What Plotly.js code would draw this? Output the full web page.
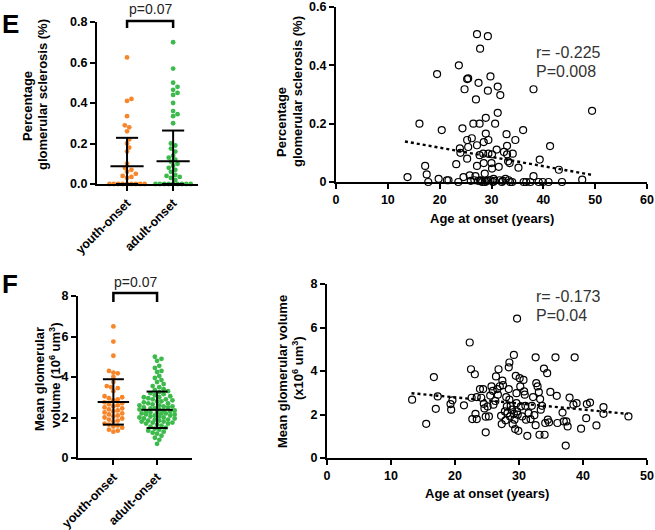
<!DOCTYPE html>
<html><head><meta charset="utf-8">
<script src="https://cdn.plot.ly/plotly-3.0.1.min.js"></script>
<style>html,body{margin:0;padding:0;background:#fff}#chart{width:655px;height:530px}</style>
</head><body><div id="chart"></div>
<script>
// ---------- DATA ----------
const groups = ["youth-onset", "adult-onset"];

// Panel E left: percentage glomerular sclerosis by group
const sclYouth = [0.625,0.42,0.41,0.335,0.29,0.28,0.26,0.22,0.2,0.18,0.16,0.1,0.08,0.07,0.06,0.05,0.04,0.035,0.03,0,0,0,0,0,0,0,0,0];
const sclAdult = [0.70,0.57,0.50,0.48,0.465,0.45,0.44,0.40,0.36,0.345,0.335,0.30,0.20,0.19,0.175,0.16,0.14,0.13,0.12,0.11,0.10,0.09,0.08,0.07,0.06,0.045,0.04,0.035,0.03,0.02,0,0,0,0,0,0,0,0,0];
const sclMean = [0.088, 0.112];
const sclSD = [0.14, 0.152];

// Panel E right: age at onset vs percentage glomerular sclerosis
const ageE = [13.8,16.1,17.2,17.5,17.8,19.5,19.8,20.4,21.4,21.7,23.2,23.6,23.7,23.9,24.0,24.4,24.6,24.8,25.3,25.3,25.5,25.5,25.3,25.8,26.2,26.5,26.7,26.9,27.0,27.2,27.2,27.2,27.5,27.7,27.7,27.8,27.8,28.2,28.4,28.5,28.5,28.7,28.8,28.9,28.9,29.3,29.3,29.4,29.4,29.4,29.8,29.8,30.0,30.1,30.1,30.3,30.4,30.7,31.0,31.2,31.2,31.4,31.6,31.7,32.0,32.4,32.7,32.9,33.0,33.0,33.2,33.3,33.5,33.6,34.0,34.1,34.6,35.2,36.1,36.2,36.7,37.5,38.1,38.1,39.1,39.3,39.9,41.0,41.3,43.0,43.6,47.5,49.4,26.0,28.0,30.6,32.2,29.0,27.4];
const sclE = [0.017,0.20,0.055,0.026,0,0.37,0.011,0.178,0.006,0.006,0.061,0,0.40,0.115,0.10,0.184,0.017,0.318,0.144,0.353,0.355,0.12,0.08,0.023,0.15,0.20,0.006,0.02,0.283,0.507,0.126,0.055,0.34,0.20,0.092,0.457,0.006,0,0.097,0.137,0.065,0.029,0,0.22,0.166,0.50,0.313,0.144,0.097,0.006,0.362,0.006,0.065,0.095,0.046,0,0.011,0.20,0.111,0.327,0.237,0.052,0.006,0.298,0,0.103,0.011,0.164,0.124,0.095,0.071,0.006,0.065,0,0,0.097,0.144,0.049,0.178,0,0,0,0.318,0.02,0,0.077,0,0,0.123,0.042,0,0.008,0.244,0.004,0.004,0.004,0.004,0.004,0.004];
const fitE_x = [13.3, 49.2];
const fitE_y = [0.139, 0.025];

// Panel F left: mean glomerular volume by group
const volYouth = [6.5,5.75,5.05,4.3,4.22,4.18,4.0,3.75,3.55,3.5,3.45,3.3,3.05,3.0,2.95,2.9,2.85,2.75,2.7,2.65,2.6,2.55,2.5,2.45,2.4,2.35,2.3,2.25,2.2,2.15,2.1,2.05,2.0,1.95,1.9,1.85,1.8,1.7,1.65,1.6,1.55,1.5,1.4,1.35,1.3];
const volAdult = [5.0,4.9,4.8,4.55,4.45,4.3,4.25,4.05,3.95,3.85,3.75,3.65,3.55,3.5,3.4,3.35,3.3,3.25,3.2,3.15,3.1,3.05,3.0,3.0,2.95,2.9,2.9,2.85,2.8,2.8,2.75,2.7,2.7,2.65,2.6,2.6,2.55,2.55,2.5,2.5,2.45,2.45,2.4,2.4,2.35,2.35,2.3,2.3,2.25,2.25,2.2,2.2,2.2,2.15,2.15,2.1,2.1,2.05,2.05,2.0,2.0,1.95,1.95,1.9,1.9,1.85,1.85,1.8,1.8,1.75,1.75,1.7,1.7,1.65,1.6,1.55,1.5,1.45,1.4,1.35,1.3,1.25,1.2,1.1,1.0,0.9,0.7];
const volMean = [2.77, 2.38];
const volSD = [1.12, 0.9];

// Panel F right: age at onset vs mean glomerular volume
const ageF = [13.3,15.5,16.7,17.0,17.3,19.3,19.4,19.6,21.4,22.3,22.5,22.6,22.7,23.1,23.2,23.4,23.4,23.9,24.1,24.4,24.5,24.6,24.8,24.8,25.1,25.3,25.5,25.7,25.9,26.0,26.3,26.4,26.6,26.7,26.8,27.0,27.2,27.3,27.4,27.5,27.8,27.9,28.0,28.1,28.2,28.4,28.4,28.5,28.5,28.6,28.7,28.9,29.0,29.2,29.2,29.3,29.4,29.5,29.6,29.6,29.7,29.7,29.8,29.9,30.1,30.2,30.3,30.5,30.7,30.8,30.9,31.0,31.1,31.3,31.5,31.8,32.0,32.2,32.4,32.6,32.6,32.7,32.9,33.1,33.2,33.3,33.4,33.6,33.9,34.0,34.1,34.4,34.5,34.7,34.9,35.7,35.9,36.0,36.8,37.0,37.3,37.4,37.6,37.9,38.5,38.7,39.0,39.7,40.5,40.6,41.1,42.1,43.2,43.2,47.1];
const volF = [2.68,1.57,3.72,2.26,2.83,2.48,2.22,2.65,2.42,5.31,4.08,2.77,1.79,3.85,2.03,2.8,1.79,3.17,2.77,3.17,2.49,2.28,1.9,1.18,2.37,1.91,2.87,3.29,3.09,2.45,2.62,3.75,3.17,2.91,4.08,3.3,1.94,1.56,3.56,3.35,2.14,1.73,2.8,2.37,2.06,3.17,4.17,4.39,2.68,1.91,2.4,2.22,1.56,4.74,2.03,1.76,1.33,3.78,2.98,2.52,6.41,2.14,1.99,1.25,3.67,3.29,2.37,1.91,3.59,3.06,2.91,2.4,1.76,1.02,2.06,1.79,2.4,2.8,1.97,4.63,1.51,3.44,3.29,3.03,1.07,2.71,2.22,2.4,4.11,1.07,1.61,3.9,1.76,1.64,3.04,4.63,2.86,1.61,2.09,1.68,0.57,1.68,1.45,2.78,2.45,4.63,2.52,1.35,1.83,2.48,2.55,1.5,2.34,2.03,1.91];
const fitF_x = [13.2, 47.0];
const fitF_y = [2.98, 2.03];

// ---------- STYLE / LAYOUT HELPERS ----------
const W = 655, H = 530;
const ORANGE = "#f7862a", GREEN = "#3dba4c";
const FONT = "Liberation Sans, Arial, sans-serif";
const px = x => x / W, py = y => 1 - y / H;

const dom = {
  eL: {x: [97, 198], y: [22, 184], xr: [-0.652, 1.54], yr: [0, 0.8]},
  eR: {x: [336, 647], y: [7, 182], xr: [0, 60], yr: [0, 0.6]},
  fL: {x: [78, 192], y: [296, 458], xr: [-0.81, 1.8], yr: [0, 8]},
  fR: {x: [327, 647], y: [284, 458], xr: [0, 50], yr: [0, 8]}
};

function swarm(vals, pxX, pxY, d, maxHalf) {
  const placed = [], xs = new Array(vals.length);
  const order = vals.map((v, i) => i).sort((a, b) => vals[a] - vals[b]);
  for (const i of order) {
    const y = vals[i] * pxY;
    let best = 0, bestScore = -1;
    for (let k = 0; k < 80; k++) {
      const off = k === 0 ? 0 : (k % 2 ? 1 : -1) * Math.ceil(k / 2) * d * 0.5;
      if (Math.abs(off) > maxHalf) break;
      let minD = Infinity;
      for (const p of placed) minD = Math.min(minD, Math.hypot(p.x - off, p.y - y));
      if (minD >= d) { best = off; bestScore = Infinity; break; }
      if (minD > bestScore) { bestScore = minD; best = off; }
    }
    placed.push({x: best, y});
    xs[i] = best / pxX;
  }
  return xs;
}

function axisPair(key, xa, ya, opts) {
  const D = dom[key];
  const common = {
    showline: true, linecolor: "#000", linewidth: 2, mirror: false,
    ticks: "outside", ticklen: 5, tickwidth: 2, tickcolor: "#000",
    showgrid: false, zeroline: false,
    tickfont: {family: FONT, size: 12.5, color: "#000", weight: 700}
  };
  const X = Object.assign({}, common, {domain: [px(D.x[0]), px(D.x[1])], range: D.xr, anchor: ya}, opts.x || {});
  const Y = Object.assign({}, common, {domain: [py(D.y[1]), py(D.y[0])], range: D.yr, anchor: xa}, opts.y || {});
  return [X, Y];
}

const traces = [];
const shapes = [];
const ann = [];

function groupPanel(key, xa, ya, data, mean, sd, colors) {
  const D = dom[key];
  const pxX = (D.x[1] - D.x[0]) / (D.xr[1] - D.xr[0]);
  const pxY = (D.y[1] - D.y[0]) / (D.yr[1] - D.yr[0]);
  data.forEach((vals, g) => {
    const offs = swarm(vals, pxX, pxY, 4.4, 18);
    traces.push({type: "scatter", mode: "markers", xaxis: xa, yaxis: ya, cliponaxis: false,
      x: offs.map(o => g + o), y: vals, hoverinfo: "skip",
      marker: {size: 4.8, color: colors[g], line: {width: 0}}});
  });
  // mean and SD bars
  mean.forEach((m, g) => {
    const lo = Math.max(D.yr[0], m - sd[g]), hi = m + sd[g];
    const line = {color: "#000", width: 2};
    traces.push({type: "scatter", mode: "lines", xaxis: xa, yaxis: ya, hoverinfo: "skip", cliponaxis: false,
      x: [g - 0.36, g + 0.36], y: [m, m], line});
    traces.push({type: "scatter", mode: "lines", xaxis: xa, yaxis: ya, hoverinfo: "skip", cliponaxis: false,
      x: [g, g, null, g - 0.24, g + 0.24, null, g - 0.24, g + 0.24], y: [lo, hi, null, hi, hi, null, lo, lo], line});
  });
}

function scatterPanel(xa, ya, xs, ys, fx, fy) {
  traces.push({type: "scatter", mode: "markers", xaxis: xa, yaxis: ya, cliponaxis: false, hoverinfo: "skip",
    x: xs, y: ys, marker: {symbol: "circle-open", size: 7, color: "#000", line: {width: 1.2, color: "#000"}}});
  traces.push({type: "scatter", mode: "lines", xaxis: xa, yaxis: ya, hoverinfo: "skip",
    x: fx, y: fy, line: {color: "#000", width: 2.4, dash: "dot"}});
}

groupPanel("eL", "x", "y", [sclYouth, sclAdult], sclMean, sclSD, [ORANGE, GREEN]);
scatterPanel("x2", "y2", ageE, sclE, fitE_x, fitE_y);
groupPanel("fL", "x3", "y3", [volYouth, volAdult], volMean, volSD, [ORANGE, GREEN]);
scatterPanel("x4", "y4", ageF, volF, fitF_x, fitF_y);

const catX = {tickvals: [0, 1], ticktext: groups, tickangle: -45};
const [x1, y1] = axisPair("eL", "x", "y", {x: catX, y: {tickvals: [0, 0.2, 0.4, 0.6, 0.8], tickformat: ".1f"}});
const [x2, y2] = axisPair("eR", "x2", "y2", {x: {tickvals: [0, 10, 20, 30, 40, 50, 60]}, y: {tickvals: [0, 0.2, 0.4, 0.6], ticktext: ["0", "0.2", "0.4", "0.6"]}});
const [x3, y3] = axisPair("fL", "x3", "y3", {x: catX, y: {tickvals: [0, 2, 4, 6, 8]}});
const [x4, y4] = axisPair("fR", "x4", "y4", {x: {tickvals: [0, 10, 20, 30, 40, 50]}, y: {tickvals: [0, 2, 4, 6, 8]}});

// significance brackets
function bracket(xa, yTop, yLeg, textY) {
  const l = {color: "#000", width: 2.5};
  shapes.push({type: "path", xref: xa, yref: "paper",
    path: `M 0 ${py(yLeg)} L 0 ${py(yTop)} L 1 ${py(yTop)} L 1 ${py(yLeg)}`, line: l});
  ann.push({xref: xa, yref: "paper", x: 0.5, y: py(textY), text: "p=0.07", showarrow: false,
    xanchor: "center", yanchor: "middle", font: {family: FONT, size: 14, color: "#222"}});
}
bracket("x", 21, 28, 9);
bracket("x3", 293, 302, 282);

function txt(text, x, y, o) {
  ann.push(Object.assign({xref: "paper", yref: "paper", x: px(x), y: py(y), text, showarrow: false,
    xanchor: "center", yanchor: "middle", font: {family: FONT, size: 13, color: "#000", weight: 700}}, o || {}));
}
const rot = {textangle: -90};
// panel letters
txt("E", 10, 24, {font: {family: FONT, size: 26, color: "#000", weight: 700}});
txt("F", 10, 284, {font: {family: FONT, size: 26, color: "#000", weight: 700}});
// axis titles
txt("Percentage", 28, 106, rot);
txt("glomerular sclerosis (%)", 43, 95, rot);
txt("Percentage", 282, 122, rot);
txt("glomerular sclerosis (%)", 298, 92, rot);
txt("Age at onset (years)", 492, 218);
txt("Mean glomerular", 39, 379, rot);
txt("volume (10<sup>6</sup> um<sup>3</sup>)", 55, 375, rot);
txt("Mean glomerular volume", 282, 372, rot);
txt("(x10<sup>6</sup> um<sup>3</sup>)", 298, 368, rot);
txt("Age at onset (years)", 487, 493);
// correlation text
const corr = {xanchor: "left", font: {family: FONT, size: 16, color: "#333", weight: 400}};
txt("r= -0.225", 534, 53, corr);
txt("P=0.008", 534, 72, corr);
txt("r= -0.173", 534, 296, corr);
txt("P=0.04", 534, 315, corr);

const layout = {
  width: W, height: H, margin: {l: 0, r: 0, t: 0, b: 0},
  paper_bgcolor: "#fff", plot_bgcolor: "rgba(0,0,0,0)",
  showlegend: false, font: {family: FONT, color: "#000"},
  xaxis: x1, yaxis: y1, xaxis2: x2, yaxis2: y2, xaxis3: x3, yaxis3: y3, xaxis4: x4, yaxis4: y4,
  shapes, annotations: ann
};
Plotly.newPlot("chart", traces, layout, {staticPlot: true, displayModeBar: false});
</script>
</body></html>
